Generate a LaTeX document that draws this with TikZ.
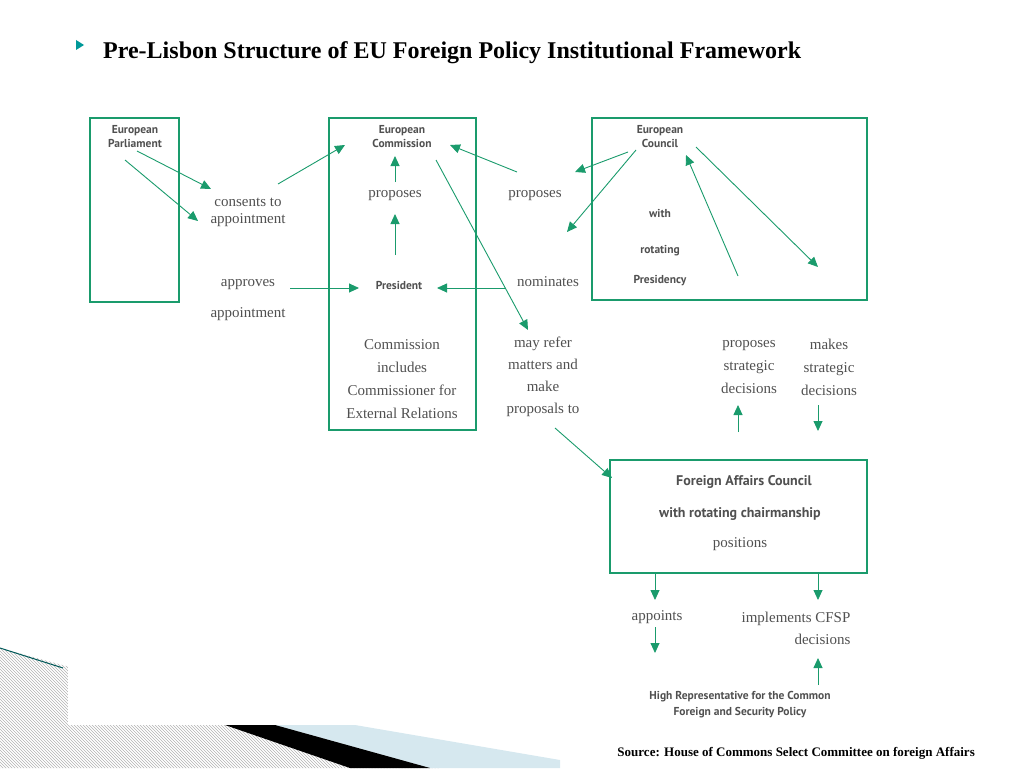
\documentclass[tikz,border=0pt]{standalone}
\usepackage{fontspec}
\setmainfont{Liberation Serif}
\newfontfamily\lab{PT Sans}
\usetikzlibrary{arrows.meta,patterns}
\definecolor{eugreen}{HTML}{1A9B6C}
\definecolor{txtgrey}{HTML}{505050}
\definecolor{lblue}{HTML}{D6E8EF}
\begin{document}
\begin{tikzpicture}[x=1pt,y=-1pt,
  box/.style={draw=eugreen,line width=1.2pt},
  arr/.style={draw=eugreen,line width=0.9pt,-{Triangle[length=10pt,width=9pt]}},
  ser/.style={text=txtgrey,font=\fontsize{15}{17}\selectfont,align=center,inner sep=0pt},
  sf/.style={text=txtgrey,font=\lab\bfseries\fontsize{11.5}{14}\selectfont,align=center,inner sep=0pt}]
\useasboundingbox (0,0) rectangle (1024,768);
% decoration
\fill[pattern=north west lines,pattern color=gray!60] (0,648) -- (440,768) -- (0,768) -- cycle;
\fill[lblue] (275,725) -- (355,725) -- (560,760) -- (560,768) -- (430,768) -- cycle;
\fill[black] (225,725) -- (275,725) -- (430,768) -- (350,768) -- cycle;
\draw[teal!70!black,line width=1pt] (0,648) -- (63,668);
\fill[white] (68,640) rectangle (560,725);
% title
\fill[teal!80!cyan] (76,40) -- (84,45) -- (76,50) -- cycle;
\node[anchor=west,font=\bfseries\fontsize{24}{28}\selectfont,inner sep=0pt] (title) at (103,53) {Pre-Lisbon Structure of EU Foreign Policy Institutional Framework};
% boxes
\draw[box] (90,118) rectangle (179,302);
\draw[box] (329,118) rectangle (476,430);
\draw[box] (592,118) rectangle (867,300);
\draw[box] (610,460) rectangle (867,573);
% labels
\node[sf] (ep) at (135,137) {European\\Parliament};
\node[sf] (ec) at (402,137) {European\\Commission};
\node[sf] (cou) at (660,137) {European\\Council};
\node[sf] (with) at (660,213) {with};
\node[sf] (rot) at (660,251) {rotating};
\node[sf] (pres2) at (660,281) {Presidency};
\node[sf] (pres) at (399,285) {President};
\node[ser] (cons) at (248,212) {consents to\\appointment};
\node[ser] (appr) at (248,285) {approves};
\node[ser] (appt) at (248,314) {appointment};
\node[ser] (prop1) at (395,196) {proposes};
\node[ser] (prop2) at (535,196) {proposes};
\node[ser] (nom) at (548,282) {nominates};
\node[ser,font=\fontsize{15}{23}\selectfont] (incl) at (402,379) {Commission\\includes\\Commissioner for\\External Relations};
\node[ser,font=\fontsize{15}{22}\selectfont] (refer) at (543,377) {may refer\\matters and\\make\\proposals to};
\node[ser,font=\fontsize{15}{23}\selectfont] (pstrat) at (749,367) {proposes\\strategic\\decisions};
\node[ser,font=\fontsize{15}{23}\selectfont] (mstrat) at (829,367) {makes\\strategic\\decisions};
\node[sf,font=\lab\bfseries\fontsize{14}{16}\selectfont] (fac) at (744,482) {Foreign Affairs Council};
\node[sf,font=\lab\bfseries\fontsize{14}{16}\selectfont] (chair) at (740,514) {with rotating chairmanship};
\node[ser] (pos) at (740,544) {positions};
\node[ser] (appo) at (657,617) {appoints};
\node[ser,align=right,font=\fontsize{15}{22}\selectfont] (impl) at (796,628) {implements CFSP\\decisions};
\node[sf,font=\lab\bfseries\fontsize{11.5}{16}\selectfont] (hr) at (740,705) {High Representative for the Common\\Foreign and Security Policy};
\node[anchor=east,font=\bfseries\fontsize{13}{15}\selectfont,inner sep=0pt] (src) at (975,753) {Source: House of Commons Select Committee on foreign Affairs};
% arrows
\coordinate (a1) at (125,160); \coordinate (b1) at (198,221);
\coordinate (a2) at (137,151); \coordinate (b2) at (211,189);
\coordinate (a3) at (278,184); \coordinate (b3) at (345,145);
\coordinate (a4) at (395,182); \coordinate (b4) at (395,156);
\coordinate (a5) at (395,255); \coordinate (b5) at (395,214);
\coordinate (a6) at (290,288); \coordinate (b6) at (359,288);
\coordinate (a7) at (505,288); \coordinate (b7) at (437,288);
\coordinate (a8) at (517,172); \coordinate (b8) at (450,145);
\coordinate (a9) at (436,160); \coordinate (b9) at (528,330);
\coordinate (a10) at (628,152); \coordinate (b10) at (575,172);
\coordinate (a11) at (636,150); \coordinate (b11) at (567,232);
\coordinate (a12) at (738,276); \coordinate (b12) at (686,155);
\coordinate (a13) at (696,147); \coordinate (b13) at (818,267);
\coordinate (a14) at (738,432); \coordinate (b14) at (738,405);
\coordinate (a15) at (818,405); \coordinate (b15) at (818,431);
\coordinate (a16) at (555,428); \coordinate (b16) at (612,478);
\coordinate (a17) at (655,574); \coordinate (b17) at (655,600);
\coordinate (a18) at (818,574); \coordinate (b18) at (818,600);
\coordinate (a19) at (655,627); \coordinate (b19) at (655,653);
\coordinate (a20) at (818,685); \coordinate (b20) at (818,658);
\foreach \i in {1,...,20} {\draw[arr] (a\i) -- (b\i);}
\end{tikzpicture}
\end{document}
